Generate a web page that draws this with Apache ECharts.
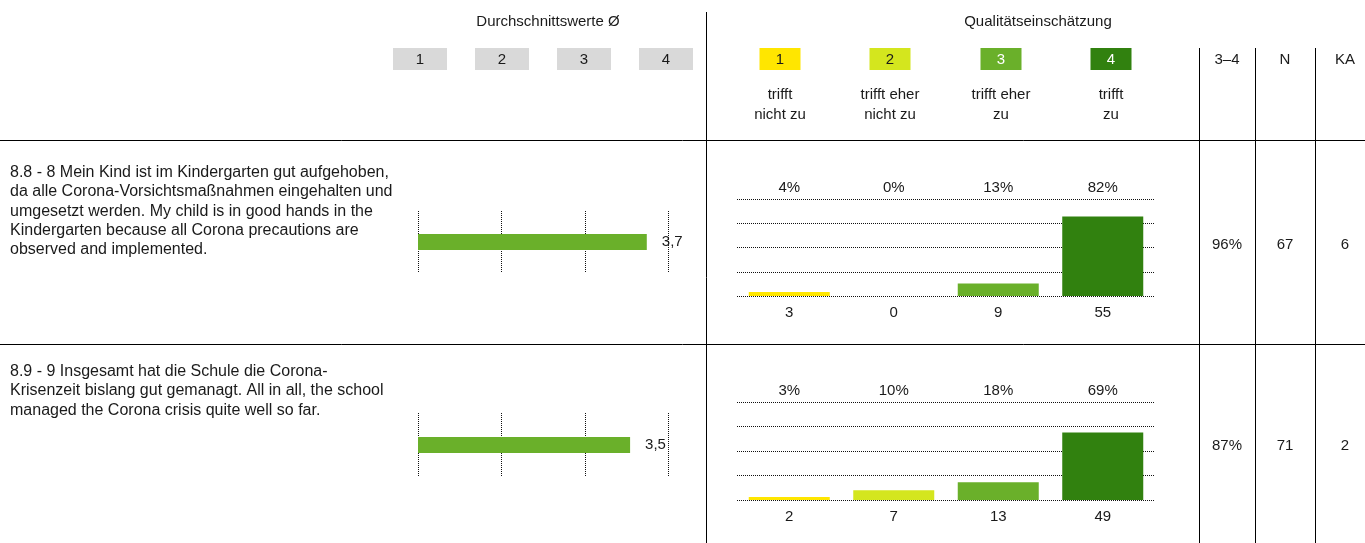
<!DOCTYPE html>
<html><head><meta charset="utf-8">
<script src="https://cdn.jsdelivr.net/npm/echarts@6/dist/echarts.min.js"></script>
<style>html,body{margin:0;padding:0;background:#fff}#c{width:1365px;height:543px}</style>
</head><body><div id="c"></div>
<script>
// ---- data ----
const questions = [
  '8.8 - 8 Mein Kind ist im Kindergarten gut aufgehoben,\nda alle Corona-Vorsichtsmaßnahmen eingehalten und\numgesetzt werden. My child is in good hands in the\nKindergarten because all Corona precautions are\nobserved and implemented.',
  '8.9 - 9 Insgesamt hat die Schule die Corona-\nKrisenzeit bislang gut gemanagt. All in all, the school\nmanaged the Corona crisis quite well so far.'
];
const means = [3.74, 3.54];
const meanTicks = ['1', '2', '3', '4'];
const scaleCodes = ['1', '2', '3', '4'];
const scaleTexts = ['trifft\nnicht zu', 'trifft eher\nnicht zu', 'trifft eher\nzu', 'trifft\nzu'];
const counts1 = [3, 0, 9, 55];
const percents1 = [4, 0, 13, 82];
const counts2 = [2, 7, 13, 49];
const percents2 = [3, 10, 18, 69];
const share34 = ['96%', '87%'];
const nValues = [67, 71];
const kaValues = [6, 2];
const headerLeft = 'Durchschnittswerte Ø';
const headerRight = 'Qualitätseinschätzung';
const colHeads = ['3–4', 'N', 'KA'];

// ---- style ----
const FONT = '"Liberation Sans", Arial, sans-serif';
const TXT = '#1a1a1a';
const scaleColors = ['#FFE600', '#D4E61E', '#6AB02A', '#31810F'];
const scaleTextColors = ['#1a1a1a', '#1a1a1a', '#ffffff', '#ffffff'];
const meanColor = '#6AB02A';
const dotted = {color: '#111', type: [1, 1], width: 1};

const chart = echarts.init(document.getElementById('c'), null, {renderer: 'canvas'});

const meanLeft = 418, meanWidth = 250.5;
const distLeft = 737, distWidth = 418;
const rows = [
  {meanTop: 211, meanH: 62, distTop: 199, distH: 97, textY: 163, valY: 245},
  {meanTop: 413, meanH: 64, distTop: 402, distH: 98, textY: 362, valY: 446}
];
const countsList = [counts1, counts2];
const pctList = [percents1, percents2];

const grids = [], xAxes = [], yAxes = [], series = [];
rows.forEach((r, i) => {
  // mean chart
  grids.push({left: meanLeft, top: r.meanTop, width: meanWidth, height: r.meanH});
  xAxes.push({type: 'value', gridIndex: grids.length - 1, min: 1, max: 4, interval: 1,
    axisLine: {show: false}, axisTick: {show: false}, axisLabel: {show: false},
    splitLine: {show: true, lineStyle: dotted}});
  yAxes.push({type: 'category', gridIndex: grids.length - 1, data: ['m'], show: false});
  series.push({type: 'bar', xAxisIndex: xAxes.length - 1, yAxisIndex: yAxes.length - 1,
    data: [means[i]], barWidth: 16, clip: true, itemStyle: {color: meanColor},
    label: {show: true, position: 'right', distance: 15, fontFamily: FONT, fontSize: 15, color: TXT,
      formatter: p => p.value.toFixed(1).replace('.', ',')}});
  // distribution chart
  grids.push({left: distLeft, top: r.distTop, width: distWidth, height: r.distH});
  const gi = grids.length - 1;
  xAxes.push({type: 'category', gridIndex: gi, position: 'bottom', data: countsList[i].map(String),
    axisLine: {show: false}, axisTick: {show: false},
    axisLabel: {fontFamily: FONT, fontSize: 15, color: TXT, margin: 9}});
  const bottomIdx = xAxes.length - 1;
  xAxes.push({type: 'category', gridIndex: gi, position: 'top', data: pctList[i].map(v => v + '%'),
    axisLine: {show: false}, axisTick: {show: false},
    axisLabel: {fontFamily: FONT, fontSize: 15, color: TXT, margin: 4}});
  yAxes.push({type: 'value', gridIndex: gi, min: 0, max: 100, interval: 25,
    axisLine: {show: false}, axisTick: {show: false}, axisLabel: {show: false},
    splitLine: {show: true, lineStyle: dotted}});
  series.push({type: 'bar', xAxisIndex: bottomIdx, yAxisIndex: yAxes.length - 1,
    data: pctList[i].map((v, k) => ({value: v, itemStyle: {color: scaleColors[k]}})),
    barWidth: 81});
});

// ---- graphics: header, lines, texts ----
const g = [];
const txt = (x, y, text, opt = {}) => g.push({type: 'text', x, y, style: Object.assign({
  text, fontFamily: FONT, fontSize: 15, fill: TXT, align: 'center', verticalAlign: 'middle', lineHeight: 19}, opt)});
const line = (x1, y1, x2, y2) => g.push({type: 'line', shape: {x1, y1, x2, y2}, style: {stroke: '#000', lineWidth: 1}});

txt(548, 22, headerLeft);
txt(1038, 22, headerRight);
// gray boxes for mean scale
[420, 502, 584, 666].forEach((cx, k) => {
  g.push({type: 'rect', shape: {x: cx - 27, y: 48, width: 54, height: 22}, style: {fill: '#D9D9D9'}});
  txt(cx, 59.5, meanTicks[k]);
});
// coloured boxes for scale
[780, 890, 1001, 1111].forEach((cx, k) => {
  g.push({type: 'rect', shape: {x: cx - 20.5, y: 48, width: 41, height: 22}, style: {fill: scaleColors[k]}});
  txt(cx, 59.5, scaleCodes[k], {fill: scaleTextColors[k]});
  txt(cx, 105, scaleTexts[k], {lineHeight: 20});
});
// column headers
[1227, 1285, 1345].forEach((cx, k) => txt(cx, 60, colHeads[k]));
// lines
line(706.5, 12, 706.5, 543);
[1199.5, 1255.5, 1315.5].forEach(x => line(x, 48, x, 543));
line(0, 140.5, 1365, 140.5);
line(0, 344.5, 1365, 344.5);
// rows
rows.forEach((r, i) => {
  txt(10, r.textY, questions[i], {align: 'left', verticalAlign: 'top', fontSize: 16, lineHeight: 19.3});
  txt(1227, r.valY, share34[i]);
  txt(1285, r.valY, String(nValues[i]));
  txt(1345, r.valY, String(kaValues[i]));
});

chart.setOption({
  animation: false,
  grid: grids, xAxis: xAxes, yAxis: yAxes, series,
  graphic: g
});
</script></body></html>
